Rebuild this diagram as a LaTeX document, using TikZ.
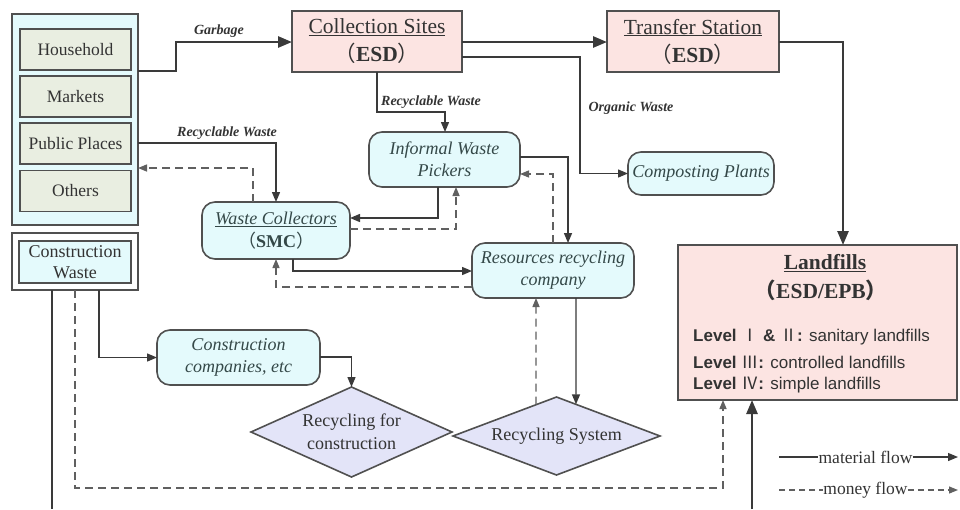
\documentclass[tikz,border=0pt]{standalone}
\usepackage{fontspec}
\setmainfont{Liberation Serif}
\newfontfamily\arialf{Liberation Sans}
\newfontfamily\cjk{Noto Sans CJK SC}
\usetikzlibrary{arrows.meta,shapes.geometric}
\definecolor{pinkf}{HTML}{FCE4E2}
\definecolor{cyanf}{HTML}{E4FAFC}
\definecolor{greenf}{HTML}{E9EEE1}
\definecolor{lavf}{HTML}{E3E4F8}
\definecolor{edgec}{HTML}{505050}
\definecolor{linec}{HTML}{3A3A3A}
\definecolor{dashc}{HTML}{606060}
\definecolor{txt}{HTML}{333333}
\definecolor{itxt}{HTML}{344848}
\newcommand{\fsz}[2]{\fontsize{#1}{#2}\selectfont}
\tikzset{
  box/.style={draw=edgec, line width=1.6pt, inner sep=0pt, outer sep=0pt, text=txt},
  pinkbox/.style={box, fill=pinkf},
  srcbox/.style={box, fill=greenf, minimum width=111pt, minimum height=41pt, font=\fsz{17.5}{20}},
  rbox/.style={box, fill=cyanf, rounded corners=13pt, align=center, font=\fsz{18}{22}\itshape, text=itxt},
  dia/.style={box, diamond, fill=lavf, align=center, font=\fsz{18}{23}},
  flow/.style={draw=linec, line width=1.4pt, -{Triangle[length=10pt,width=8pt]}},
  heavy/.style={draw=linec, line width=2.6pt, -{Triangle[length=14pt,width=11pt]}},
  money/.style={draw=dashc, line width=1.4pt, dash pattern=on 8pt off 5pt, -{Triangle[length=9pt,width=7pt]}},
  lbl/.style={font=\fsz{14}{16}\bfseries\itshape, text=txt, inner sep=0pt},
  plain/.style={font=\fsz{17.5}{20}, text=txt, inner sep=0pt}
}
\begin{document}
\begin{tikzpicture}[x=1pt,y=-1pt]
\fill[white] (0,0) rectangle (960,509);
\useasboundingbox (0,0) rectangle (960,509);

% sources
\node[box, fill=cyanf, minimum width=126pt, minimum height=211pt] (src) at (75,119.5) {};
\node[srcbox] (hh) at (75.5,49.5) {Household};
\node[srcbox] (mk) at (75.5,96.5) {Markets};
\node[srcbox] (pp) at (75.5,143.5) {Public Places};
\node[srcbox] (ot) at (75.5,191) {Others};
\node[box, fill=white, minimum width=126pt, minimum height=57pt] (cwo) at (75,261.5) {};
\node[box, fill=cyanf, minimum width=112pt, minimum height=42pt, align=center, font=\fsz{18}{21}] (cw) at (75,262) {Construction\\Waste};

% top boxes
\node[pinkbox, minimum width=170pt, minimum height=61pt, align=center, font=\fsz{21.5}{28}] (cs) at (377,41.5) {\underline{Collection Sites}\\{\cjk （}\textbf{ESD}{\cjk ）}};
\node[pinkbox, minimum width=172pt, minimum height=61pt, align=center, font=\fsz{21.5}{28}] (ts) at (693,41.5) {\underline{Transfer Station}\\{\cjk （}\textbf{ESD}{\cjk ）}};

% rounded nodes
\node[rbox, minimum width=146pt, minimum height=43pt] (cp) at (701,173.5) {Composting Plants};
\node[rbox, minimum width=151pt, minimum height=55pt] (iwp) at (444.5,159.5) {Informal Waste\\Pickers};
\node[rbox, minimum width=148pt, minimum height=57pt, font=\fsz{18}{23}\itshape] (wc) at (276,230.5) {\underline{Waste Collectors}\\{\upshape\cjk （}{\upshape\bfseries SMC}{\upshape\cjk ）}};
\node[rbox, minimum width=162pt, minimum height=55pt] (rrc) at (553,270.5) {Resources recycling\\company};
\node[rbox, minimum width=163pt, minimum height=55pt, font=\fsz{18}{21.5}\itshape] (cc) at (238.5,357.5) {Construction\\companies, etc};

% diamonds
\node[dia, aspect=2.23, minimum width=201pt, minimum height=90pt] (rfc) at (351.5,432) {Recycling for\\construction};
\node[dia, aspect=2.65, minimum width=207pt, minimum height=78pt] (rs) at (556.5,436) {Recycling System};

% landfills
\node[pinkbox, minimum width=279pt, minimum height=155pt] (lf) at (817.5,322.5) {};
\node[font=\fsz{21.5}{24}\bfseries, text=txt, inner sep=0pt] (lft) at (825,263) {\underline{Landfills}};
\node[font=\fsz{21.5}{24}\bfseries, text=txt, inner sep=0pt] (lfs) at (821,290) {{\cjk （}ESD/EPB{\cjk ）}};
\node[anchor=west, font=\arialf\fsz{17}{20}, text=txt, inner sep=0pt] (lv1) at (693,337) {\textbf{Level} {\cjk Ⅰ} \textbf{\&} {\cjk Ⅱ}\textbf{:} sanitary landfills};
\node[anchor=west, font=\arialf\fsz{17}{20}, text=txt, inner sep=0pt] (lv2) at (693,362) {\textbf{Level} {\cjk Ⅲ}\textbf{:} controlled landfills};
\node[anchor=west, font=\arialf\fsz{17}{20}, text=txt, inner sep=0pt] (lv3) at (693,385) {\textbf{Level} {\cjk Ⅳ}\textbf{:} simple landfills};

% connectors
\draw[heavy] (src.east |- 0,71) -| (176,42) -- (cs.west |- 0,42);
\node[lbl] (lg) at (219,31) {Garbage};
\draw[heavy] (cs.east |- 0,42) -- (ts.west |- 0,42);
\draw[heavy] (ts.east |- 0,42) -| (lf.north -| 843,0);
\draw[flow] (cs.east |- 0,57) -| (580,173.5) -- (cp.west);
\node[lbl] (low) at (631,108) {Organic Waste};
\draw[flow] (cs.south) |- (445,112) -- (iwp.north -| 445,0);
\node[lbl] (lrw1) at (431,102) {Recyclable Waste};
\draw[flow] (src.east |- 0,143) -| (wc.north);
\node[lbl] (lrw2) at (227,133) {Recyclable Waste};
\draw[money] (wc.north -| 253,0) |- (src.east |- 0,168);
\draw[flow] (iwp.south -| 438,0) |- (wc.east |- 0,218);
\draw[money] (wc.east |- 0,229) -| (iwp.south -| 456,0);
\draw[flow] (iwp.east |- 0,157) -| (rrc.north -| 568,0);
\draw[money] (rrc.north -| 553,0) |- (iwp.east |- 0,174);
\draw[flow] (wc.south -| 293,0) |- (rrc.west |- 0,271);
\draw[money] (rrc.west |- 0,287) -| (wc.south);
\draw[flow] (rrc.south -| 576,0) -- (intersection of 576,300--576,450 and rs.north--rs.east);
\draw[money] (intersection of 536,300--536,450 and rs.north--rs.west) -- (rrc.south -| 536,0);
\draw[flow] (cc.east |- 0,357) -| (rfc.north);
\draw[flow] (cwo.south -| 99,0) |- (cc.west);
\draw[money] (cwo.south -| 75,0) |- (723,488) -- (lf.south -| 723,0);
\coordinate (e1) at (52,509);
\coordinate (e2) at (752,509);
\draw[draw=linec, line width=1.6pt] (cwo.south -| 52,0) -- (e1);
\draw[heavy] (e2) -- (lf.south -| 752,0);

% legend
\node[plain] (mf) at (865.5,457) {material flow};
\node[plain] (mo) at (865.5,490) {money flow};
\coordinate (m1) at (779,457);
\coordinate (m2) at (958,457);
\coordinate (n1) at (779,490);
\coordinate (n2) at (958,490);
\draw[draw=linec, line width=1.2pt] (m1) -- (mf.west);
\draw[draw=linec, line width=1.2pt, -{Triangle[length=10pt,width=8pt]}] (mf.east) -- (m2);
\draw[draw=dashc, line width=1.2pt, dash pattern=on 6pt off 4pt] (n1) -- (mo.west);
\draw[draw=dashc, line width=1.2pt, dash pattern=on 6pt off 4pt, -{Triangle[length=9pt,width=7pt]}] (mo.east) -- (n2);
\end{tikzpicture}
\end{document}
